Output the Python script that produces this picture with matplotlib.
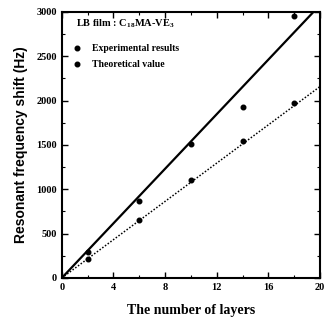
import matplotlib
matplotlib.use("Agg")
import matplotlib.pyplot as plt
from matplotlib.ticker import MultipleLocator

layers = [2, 6, 10, 14, 18]
experimental = [290, 870, 1510, 1925, 2960]
theoretical = [215, 655, 1105, 1540, 1970]

fit_x = [0, 20]
exp_fit = [0, 3080]
theo_fit = [0, 2160]

plt.rcParams["font.family"] = ["Liberation Serif", "DejaVu Serif"]
plt.rcParams["mathtext.fontset"] = "custom"
plt.rcParams["mathtext.rm"] = "Liberation Serif:bold"
plt.rcParams["mathtext.it"] = "Liberation Serif:bold"
plt.rcParams["mathtext.bf"] = "Liberation Serif:bold"

fig = plt.figure(figsize=(3.25, 3.24), dpi=100)
ax = fig.add_axes([0.19, 0.142, 0.795, 0.821])

ax.plot(fit_x, exp_fit, color="black", linewidth=1.6, solid_capstyle="butt")
ax.plot(fit_x, theo_fit, color="black", linewidth=1.1, linestyle=(0, (1, 1.2)))
ax.plot(layers, experimental, "o", color="black", markersize=3.3, label="Experimental results")
ax.plot(layers, theoretical, "o", color="black", markersize=3.3, label="Theoretical value")

ax.set_xlim(0, 20)
ax.set_ylim(0, 3000)
ax.xaxis.set_major_locator(MultipleLocator(4))
ax.xaxis.set_minor_locator(MultipleLocator(2))
ax.yaxis.set_major_locator(MultipleLocator(500))
ax.yaxis.set_minor_locator(MultipleLocator(250))
ax.tick_params(which="both", direction="in", top=True, right=True, labelsize=7.5)
ax.tick_params(which="major", length=4, width=1)
ax.tick_params(which="minor", length=2, width=0.8)
for lab in ax.get_xticklabels() + ax.get_yticklabels():
    lab.set_fontweight("bold")
for side in ax.spines.values():
    side.set_linewidth(1.5)

ax.set_xlabel("The number of layers", fontsize=10, fontweight="bold", labelpad=9)
ax.set_ylabel("Resonant frequency shift (Hz)", fontsize=10, fontweight="bold",
              family=["Liberation Sans", "DejaVu Sans"], labelpad=6)

ax.text(0.055, 0.955, "LB film : C$_{18}$MA-VE$_{3}$", transform=ax.transAxes,
        fontsize=7.5, fontweight="bold", va="center")
leg = ax.legend(loc="upper left", bbox_to_anchor=(0.015, 0.905), frameon=False,
                prop={"size": 7, "weight": "bold"}, handletextpad=1.0,
                handlelength=1.0, labelspacing=0.75, borderaxespad=0.3)

fig.savefig("out.png", dpi=100)
